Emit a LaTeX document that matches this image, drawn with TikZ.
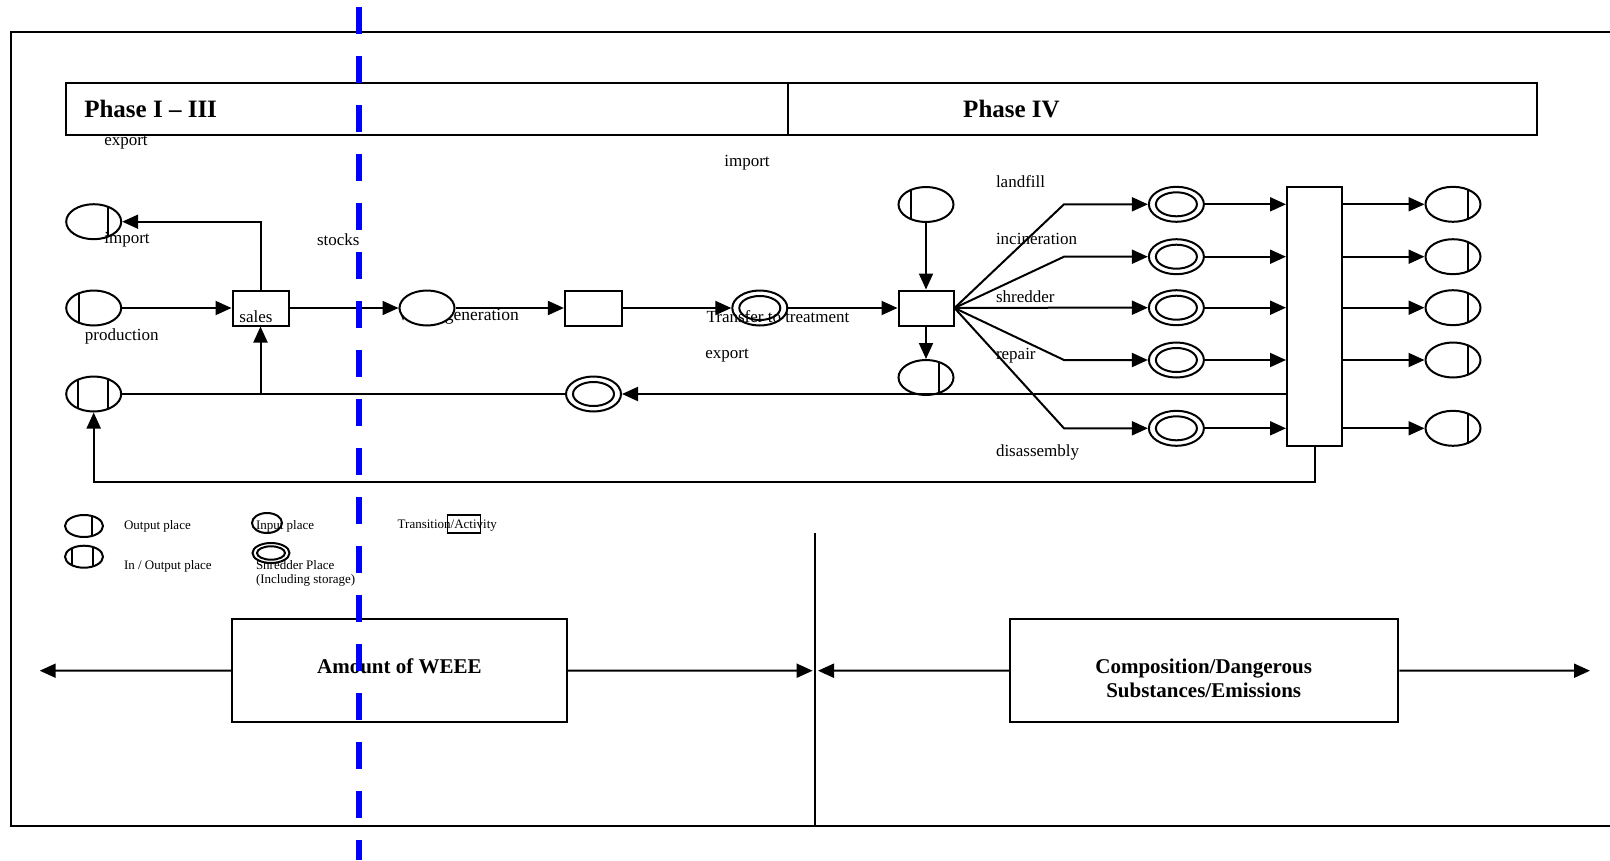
\documentclass[tikz,border=0pt]{standalone}
\usepackage{fontspec}
\setmainfont{Liberation Serif}
\usetikzlibrary{shapes.geometric,arrows.meta}

\begin{document}
\begin{tikzpicture}[x=1pt,y=-1pt,line width=2pt,
  every node/.style={inner sep=0pt},
  >={Triangle[length=16pt,width=14pt]},
  place/.style={ellipse,draw,fill=white,minimum width=55pt,minimum height=35pt},
  bars/.style={path picture={\foreach \s in {#1} \draw ([xshift=\s]path picture bounding box.center) ++(0pt,-30pt) -- ++(0pt,60pt);}},
  store/.style={place,path picture={\draw (path picture bounding box.center) ellipse (20.5pt and 12pt);}},
  trans/.style={rectangle,draw,fill=white,minimum width=55pt,minimum height=35pt},
  lbl/.style={font=\fontsize{17}{20}\selectfont},
  small/.style={font=\fontsize{13}{13.5}\selectfont},
  big/.style={font=\fontsize{21}{23.5}\selectfont\bfseries}]
\useasboundingbox (0,0) rectangle (1610,860);
\draw (1620,31.7) -- (11,31.7) -- (11,826) -- (1620,826);
\draw (65.7,83.3) rectangle (1537,135);
\draw[line width=1.5pt] (788,83.3) -- (788,135);
\node[anchor=west,font=\fontsize{25}{28}\selectfont\bfseries] (ph1) at (83.3,109) {Phase I -- III};
\node[font=\fontsize{25}{28}\selectfont\bfseries] (ph4) at (1011.5,109) {Phase IV};
\node[lbl,font=\fontsize{17.5}{20}\selectfont] (lwaste) at (458.5,316.7) {Waste generation};
\node[place,bars=14pt] (pexp) at (93.7,221.7) {};
\node[place,bars=-15pt] (pprod) at (93.7,308) {};
\node[place,bars={-16pt,14pt}] (pret) at (93.7,394) {};
\node[trans,minimum width=56pt] (sales) at (260.5,308) {};
\node[place] (pwaste) at (427,308) {};
\node[trans,minimum width=57pt] (t2) at (593.4,308) {};
\node[store] (ptr) at (759.8,308) {};
\node[trans] (ttr) at (926,308) {};
\node[place,bars=-15pt] (pimp) at (926,204.5) {};
\node[place,bars=13pt] (pexp2) at (926,377.5) {};
\node[store] (pback) at (593.5,394) {};
\node[trans,minimum width=55.4pt,minimum height=259.3pt] (bar) at (1314.7,316.35) {};
\foreach \i/\y in {1/204.3,2/256.7,3/307.7,4/360,5/428.3} {
  \node[store] (s\i) at (1176.4,\y) {};
  \node[place,bars=14.7pt] (o\i) at (1453,\y) {};
  \draw[->] (ttr.east) -- (1064,0 |- s\i) -- (s\i);
  \draw[->] (s\i) -- (s\i -| bar.west);
  \draw[->] (bar.east |- o\i) -- (o\i);
}
\draw[->] (pprod) -- (sales);
\draw[->] (sales.north) |- (pexp);
\draw[->] (sales) -- (pwaste);
\draw[->] (pwaste) -- (t2);
\draw[->] (t2) -- (ptr);
\draw[->] (ptr) -- (ttr);
\draw[->] (pimp) -- (ttr);
\draw[->] (ttr) -- (pexp2);
\draw[->] (bar.west |- pback) -- (pback);
\draw (pback) -- (pret);
\draw[->] (sales.south |- pret) -- (sales);
\draw[->] (bar.south) -- ++(0,35) -| (pret);
\node[lbl] (lsales) at (256,316.7) {sales};
\node[lbl] (lexp) at (126,143) {export};
\node[lbl] (limp) at (127,239.3) {import};
\node[lbl] (lprod) at (121.7,336.7) {production};
\node[lbl] (lstock) at (338.3,239.3) {stocks};
\node[lbl] (lxfer) at (778,316.7) {Transfer to treatment};
\node[lbl] (limp2) at (747,162.3) {import};
\node[lbl] (lexp2) at (727,356) {export};
\node[lbl,anchor=west] (lland) at (995,181.7) {landfill};
\node[lbl,anchor=west] (linc) at (995,239.3) {incineration};
\node[lbl,anchor=west] (lshr) at (995,296.7) {shredder};
\node[lbl,anchor=west] (lrep) at (995,356) {repair};
\node[lbl,anchor=west] (ldis) at (995,452.7) {disassembly};
\node[place,minimum width=38pt,minimum height=22pt,bars=8pt] (kout) at (84,526) {};
\node[place,minimum width=38pt,minimum height=22pt,bars={-12pt,9pt}] (kio) at (84,556.7) {};
\node[small,anchor=west] (tout) at (123,526.7) {Output place};
\node[small,anchor=west] (tio) at (123,566) {In / Output place};
\node[small,anchor=west] (tin) at (255,526) {Input place};
\node[place,fill=none,minimum width=30pt,minimum height=20pt] (kin) at (267,523) {};
\node[small,anchor=west,align=left] (tstore) at (255,573.3) {Shredder Place\\(Including storage)};
\node[place,minimum width=37pt,minimum height=20pt,path picture={\draw (path picture bounding box.center) ellipse (14pt and 6.7pt);}] (kstore) at (271,553) {};
\node[small,anchor=west] (ttrans) at (396.7,526) {Transition/Activity};
\draw[line width=1.5pt] (447.3,515) rectangle (480.7,533);
\draw (815.2,533) -- (815.2,826);
\node[draw,minimum width=334.4pt,minimum height=103.3pt] (amount) at (399.5,670.65) {};
\node[big] (tamount) at (399.4,666) {Amount of WEEE};
\node[draw,minimum width=388.3pt,minimum height=103.3pt] (compo) at (1204.2,670.65) {};
\node[big,align=center] (tcompo) at (1203.7,678.3) {Composition/Dangerous\\Substances/Emissions};
\coordinate (lend) at (39.7,670.7);
\coordinate (mend1) at (812.6,670.7);
\coordinate (mend2) at (818,670.7);
\coordinate (rend) at (1590,670.7);
\draw[->] (amount) -- (lend);
\draw[->] (amount) -- (mend1);
\draw[->] (compo) -- (mend2);
\draw[->] (compo) -- (rend);
\draw[blue,line width=6pt,dash pattern=on 27pt off 22pt] (359,7) -- (359,860);
\end{tikzpicture}
\end{document}
